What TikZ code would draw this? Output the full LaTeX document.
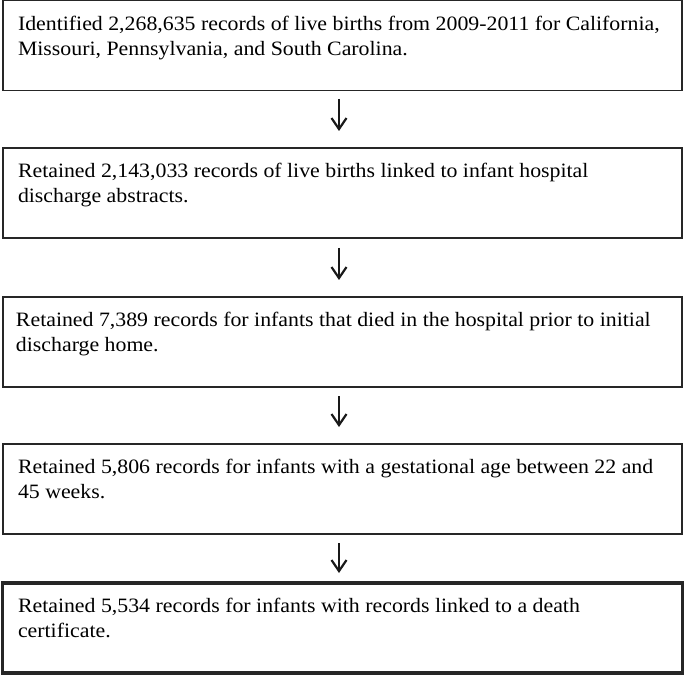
\documentclass[tikz,border=0pt]{standalone}
\usepackage{fontspec}
\setmainfont[FakeStretch=1.07]{Liberation Serif}
\usetikzlibrary{arrows.meta}
\tikzset{
  flowbox/.style={draw=black!85, line width=1.8pt, rectangle, inner sep=0pt, outer sep=0pt,
    minimum width=679pt, minimum height=90pt, anchor=north west},
  lastbox/.style={flowbox, line width=3.2pt, minimum width=680pt},
  flowarrow/.style={draw=black!90, line width=2pt, -{Straight Barb[length=11pt,width=15pt,line width=2.2pt]}},
}
\newcommand{\flowtext}[3]{\parbox[t][89pt][t]{679pt}{\vspace*{15pt}\hspace*{#1}\parbox[t]{665pt}{\fontsize{20.4pt}{25pt}\selectfont #2\\#3}}}
\begin{document}
\begin{tikzpicture}[x=1pt,y=-1pt]
\useasboundingbox (0,0) rectangle (685,676);
\node[flowbox] (b1) at (3,0.5) {\flowtext{15pt}{Identified 2,268,635 records of live births from 2009-2011 for California,}{Missouri, Pennsylvania, and South Carolina.}};
\node[flowbox] (b2) at (3,148) {\flowtext{15pt}{Retained 2,143,033 records of live births linked to infant hospital}{discharge abstracts.}};
\node[flowbox] (b3) at (3,297) {\flowtext{13pt}{Retained 7,389 records for infants that died in the hospital prior to initial}{discharge home.}};
\node[flowbox] (b4) at (3,444) {\flowtext{15pt}{Retained 5,806 records for infants with a gestational age between 22 and}{45 weeks.}};
\node[lastbox] (b5) at (2.5,583) {\flowtext{15pt}{Retained 5,534 records for infants with records linked to a death}{certificate.}};
\coordinate (a1s) at (339,99);  \coordinate (a1e) at (339,131);
\coordinate (a2s) at (339,248); \coordinate (a2e) at (339,280);
\coordinate (a3s) at (339,396); \coordinate (a3e) at (339,427);
\coordinate (a4s) at (339,543); \coordinate (a4e) at (339,573);
\draw[flowarrow] (a1s) -- (a1e);
\draw[flowarrow] (a2s) -- (a2e);
\draw[flowarrow] (a3s) -- (a3e);
\draw[flowarrow] (a4s) -- (a4e);
\end{tikzpicture}
\end{document}
